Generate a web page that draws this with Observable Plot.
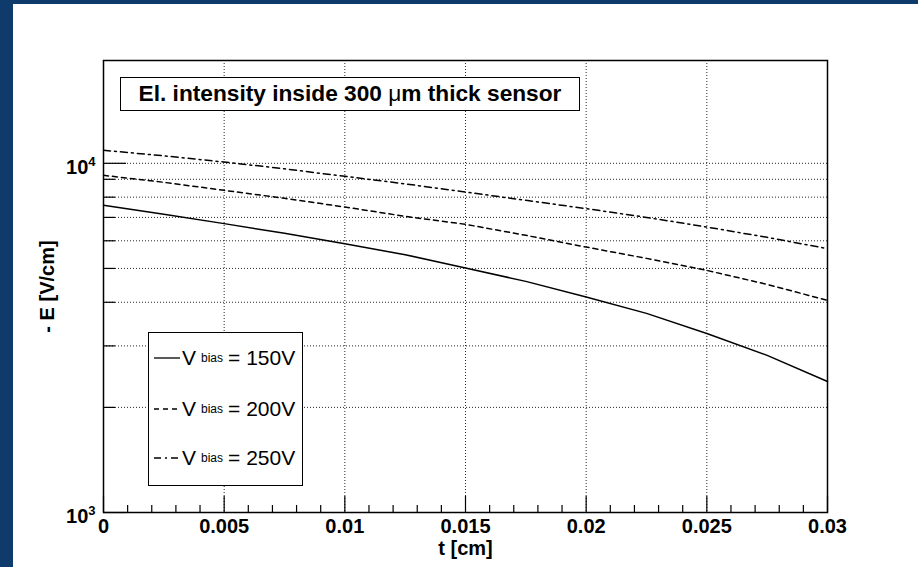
<!DOCTYPE html>
<html>
<head>
<meta charset="utf-8">
<script src="https://cdn.jsdelivr.net/npm/d3@7"></script>
<script src="https://cdn.jsdelivr.net/npm/@observablehq/plot@0.6"></script>
<style>
html, body { margin: 0; padding: 0; background: #fff; }
#wrap { position: relative; width: 918px; height: 567px; overflow: hidden; font-family: "Liberation Sans", Arial, Helvetica, sans-serif; background: #fff; }
#chart { position: absolute; left: 0; top: 0; }
.band-top { position: absolute; left: 0; top: 0; width: 918px; height: 4px; background: #0f3b6c; }
.band-left { position: absolute; left: 0; top: 0; width: 13px; height: 567px; background: #0f3b6c; }
#title { position: absolute; left: 120px; top: 77px; width: 460px; height: 34px; box-sizing: border-box; border: 1.5px solid #000; background: #fff; font-weight: bold; font-size: 22.7px; text-align: center; line-height: 31px; color: #000; white-space: nowrap; }
#title .mu { font-weight: normal; }
#legend { position: absolute; left: 148px; top: 332px; width: 155px; height: 154px; box-sizing: border-box; border: 1.5px solid #000; background: #fff; }
.row { position: absolute; left: 5px; height: 24px; display: flex; align-items: center; font-size: 21px; color: #000; white-space: nowrap; }
.row svg { margin-right: 2px; }
.row sub { font-size: 12px; vertical-align: -8px; margin-left: 5px; margin-right: 5px; }
</style>
</head>
<body>
<div id="wrap">
  <div id="chart"></div>
  <div class="band-top"></div>
  <div class="band-left"></div>
  <div id="title"></div>
  <div id="legend"></div>
</div>
<script>
// ---- data ----
const t    = [0, 0.0025, 0.005, 0.0075, 0.01, 0.0125, 0.015, 0.0175, 0.02, 0.0225, 0.025, 0.0275, 0.03];
const e150 = [7580, 7142, 6719, 6302, 5888, 5476, 5012, 4591, 4140, 3717, 3257, 2818, 2373];
const e200 = [9240, 8822, 8368, 7940, 7496, 7048, 6688, 6219, 5757, 5343, 4936, 4501, 4050];
const e250 = [10896, 10507, 10086, 9644, 9179, 8735, 8275, 7836, 7417, 7001, 6570, 6137, 5697];

const seriesVoltages = ["150V", "200V", "250V"];
const seriesDash = [null, "5,4", "7,4,2,4"];

const xMajor = [0, 0.005, 0.01, 0.015, 0.02, 0.025, 0.03];
const xTickLabels = ["0", "0.005", "0.01", "0.015", "0.02", "0.025", "0.03"];
const xMinor = [0.001, 0.002, 0.003, 0.004, 0.006, 0.007, 0.008, 0.009, 0.011, 0.012, 0.013, 0.014,
                0.016, 0.017, 0.018, 0.019, 0.021, 0.022, 0.023, 0.024, 0.026, 0.027, 0.028, 0.029];
const xGrid = [0.005, 0.01, 0.015, 0.02, 0.025];
const yMajor = [1000, 10000];
const yTickBase = ["10", "10"];
const yTickExp = ["3", "4"];
const yMinor = [2000, 3000, 4000, 5000, 6000, 7000, 8000, 9000];
const yGrid = [2000, 3000, 4000, 5000, 6000, 7000, 8000, 9000, 10000];

const titleText = "El. intensity inside 300 μm thick sensor";
const xLabel = "t [cm]";
const yLabel = "- E [V/cm]";

// ---- build ----
const seriesValues = [e150, e200, e250];
const rows = seriesValues.map(vals => t.map((ti, i) => ({t: ti, e: vals[i]})));

const dotted = {stroke: "#000", strokeWidth: 1, strokeDasharray: "1,2", strokeOpacity: 0.85};

const svg = Plot.plot({
  width: 918,
  height: 567,
  marginLeft: 103,
  marginRight: 91,
  marginTop: 60,
  marginBottom: 55,
  style: {fontFamily: "'Liberation Sans', Arial, Helvetica, sans-serif", fontSize: "20px", fontWeight: "bold", color: "#000", background: "transparent"},
  x: {domain: [0, 0.03]},
  y: {type: "log", domain: [1000, 19700]},
  marks: [
    Plot.ruleX(xGrid, dotted),
    Plot.ruleY(yGrid, dotted),
    ...rows.map((r, k) => Plot.line(r, {x: "t", y: "e", stroke: "#000", strokeWidth: 1.5, strokeDasharray: seriesDash[k] ?? undefined})),
    Plot.axisX({ticks: xMajor, anchor: "bottom", tickSize: -16, tickFormat: () => "", label: null, strokeWidth: 1.2}),
    Plot.axisX({ticks: xMinor, anchor: "bottom", tickSize: -7, tickFormat: () => "", label: null, strokeWidth: 1.2}),
    Plot.axisY({ticks: yMajor, anchor: "left", tickSize: -23, tickFormat: () => "", label: null, strokeWidth: 1.2}),
    Plot.axisY({ticks: yMinor, anchor: "left", tickSize: -12, tickFormat: () => "", label: null, strokeWidth: 1.2}),
    Plot.frame({stroke: "#000", strokeWidth: 1.5}),
    Plot.text(xMajor, {x: d => d, text: (d, i) => xTickLabels[i], frameAnchor: "bottom", lineAnchor: "middle", textAnchor: "middle", dy: 14, fontWeight: "bold", fontSize: 20}),
    Plot.text(yMajor, {y: d => d, text: (d, i) => yTickBase[i], frameAnchor: "left", lineAnchor: "middle", dx: -8, dy: 4, textAnchor: "end", fontWeight: "bold", fontSize: 20}),
    Plot.text([xLabel], {frameAnchor: "bottom", lineAnchor: "middle", textAnchor: "middle", dy: 36, fontWeight: "bold", fontSize: 20}),
    Plot.text([yLabel], {frameAnchor: "left", lineAnchor: "middle", textAnchor: "middle", dx: -56, rotate: -90, fontWeight: "bold", fontSize: 20})
  ]
});
document.getElementById("chart").appendChild(svg);

// superscript exponents on the log-axis labels ("10" texts drawn at the left of the frame)
const yLabelTexts = Array.from(svg.querySelectorAll("text")).filter(el => el.textContent === "10");
yLabelTexts.sort((a, b) => b.getBoundingClientRect().top - a.getBoundingClientRect().top);
yLabelTexts.forEach((el, i) => {
  const s = d3.select(el);
  s.text(null);
  s.append("tspan").text(yTickBase[i]);
  s.append("tspan").attr("dy", "-0.6em").attr("font-size", "13px").text(yTickExp[i]);
});

// title box
const title = document.getElementById("title");
const parts = titleText.split("μ");
title.innerHTML = parts[0] + '<span class="mu">μ</span>' + parts[1];

// legend
const legend = document.getElementById("legend");
const rowCenters = [25, 76, 125];
seriesVoltages.forEach((v, k) => {
  const row = document.createElement("div");
  row.className = "row";
  row.style.top = (rowCenters[k] - 12) + "px";
  const dash = seriesDash[k] ? ` stroke-dasharray="${seriesDash[k]}"` : "";
  row.innerHTML = `<svg width="26" height="4"><line x1="0" y1="2" x2="26" y2="2" stroke="#000" stroke-width="1.3"${dash}/></svg>` +
    `<span>V</span><sub>bias</sub><span>= ${v}</span>`;
  legend.appendChild(row);
});
</script>
</body>
</html>
